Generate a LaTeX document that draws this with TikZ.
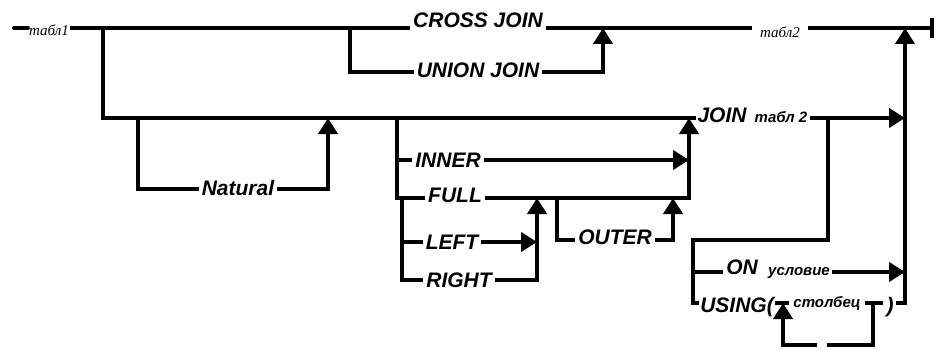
\documentclass[tikz,border=0pt]{standalone}
\usepackage{fontspec}
\setmainfont{Liberation Sans}
\newfontfamily\tabserif{Liberation Serif}
\usetikzlibrary{arrows.meta}
\newcommand{\lblfont}{\fontsize{21}{21}\selectfont\bfseries\itshape}
\newcommand{\smlfont}{\fontsize{15}{15}\selectfont\bfseries\itshape}
\newcommand{\tabfont}{\tabserif\fontsize{15}{15}\selectfont\itshape}
\begin{document}
\begin{tikzpicture}[x=1pt,y=-1pt,
  ln/.style={line width=4pt,line join=miter},
  arr/.style={ln,-{Triangle[length=16pt,width=19pt]}},
  lbl/.style={font=\lblfont,inner ysep=0pt,inner xsep=3pt,anchor=base},
  sml/.style={font=\smlfont,inner ysep=0pt,inner xsep=2pt,anchor=base},
  tab/.style={font=\tabfont,inner ysep=0pt,inner xsep=1pt,anchor=base}]
\useasboundingbox (0,0) rectangle (936,350);
% ---- text nodes
\node[tab] (t1) at (49,36) {табл1};
\node[lbl] (cross) at (478,28) {CROSS JOIN};
\node[lbl] (union) at (478,78) {UNION JOIN};
\node[tab,inner xsep=8pt] (t2) at (780,38) {табл2};
\node[lbl] (natural) at (238,195) {Natural};
\node[lbl] (inner) at (448,167) {INNER};
\node[lbl] (full) at (455,202) {FULL};
\node[lbl] (left) at (452,249) {LEFT};
\node[lbl] (right) at (459,287) {RIGHT};
\node[lbl] (outer) at (615,244) {OUTER};
\node[lbl,inner xsep=1pt] (join) at (722,122) {JOIN};
\node[sml] (tabl2b) at (781,122) {табл 2};
\node[lbl] (on) at (742,274) {ON};
\node[sml] (cond) at (799,275) {условие};
\node[lbl,inner xsep=1pt] (using) at (737,312) {USING(};
\node[sml,inner xsep=4pt] (col) at (827,307) {столбец};
\node[lbl,inner xsep=2pt] (rpar) at (890,312) {)};
% ---- junction coordinates
\coordinate (start) at (14,28);
\coordinate (a1) at (103,28);
\coordinate (a2) at (350,28);
\coordinate (a3) at (603,28);
\coordinate (a4) at (905,28);
\coordinate (end) at (934,28);
\coordinate (u1) at (350,72);
\coordinate (u2) at (603,72);
\coordinate (b1) at (103,118);
\coordinate (b2) at (138,118);
\coordinate (b3) at (328,118);
\coordinate (b4) at (397,118);
\coordinate (b5) at (689,118);
\coordinate (b6) at (828,118);
\coordinate (b7) at (905,118);
\coordinate (n1) at (138,189);
\coordinate (n2) at (328,189);
\coordinate (i1) at (397,160);
\coordinate (i2) at (689,160);
\coordinate (f1) at (397,198);
\coordinate (f2) at (402,198);
\coordinate (f3) at (537,198);
\coordinate (f4) at (557,198);
\coordinate (f5) at (673,198);
\coordinate (f6) at (689,198);
\coordinate (l1) at (402,242);
\coordinate (l2) at (537,242);
\coordinate (r1) at (402,280);
\coordinate (r2) at (537,280);
\coordinate (o1) at (557,240);
\coordinate (o2) at (673,240);
\coordinate (c1) at (828,240);
\coordinate (c2) at (693,240);
\coordinate (c3) at (693,272);
\coordinate (c4) at (905,272);
\coordinate (c5) at (693,303);
\coordinate (s1) at (783,303);
\coordinate (s2) at (873,303);
\coordinate (s3) at (883,303);
\coordinate (s4) at (905,303);
\coordinate (s5) at (873,345);
\coordinate (s6) at (827,345);
\coordinate (s7) at (817,345);
\coordinate (s8) at (783,345);
% ---- top line
\draw[ln,line cap=round] (start) -- (t1.west |- start);
\draw[ln] (t1.east |- start) -- (cross.west |- start);
\draw[ln] (cross.east |- a3) -- (t2.west |- a3);
\draw[ln,-{Bar[width=20pt]}] (t2.east |- end) -- (end);
% cross / union
\draw[ln] (a2) -- (u1) -- (union.west |- u1);
\draw[arr] (union.east |- u2) -- (u2) -- (a3);
% main join line
\draw[ln] (a1) -- (b1) -- (join.west |- b1);
\draw[arr] (tabl2b.east |- b7) -- (b7);
% natural
\draw[ln] (b2) -- (n1) -- (natural.west |- n1);
\draw[arr] (natural.east |- n2) -- (n2) -- (b3);
% inner / full
\draw[ln] (b4) -- (f1) -- (full.west |- f1);
\draw[ln] (i1) -- (inner.west |- i1);
\draw[arr] (inner.east |- i2) -- (i2);
\draw[arr] (full.east |- f6) -- (f6) -- (b5);
% left / right
\draw[ln] (f2) -- (r1) -- (right.west |- r1);
\draw[ln] (l1) -- (left.west |- l1);
\draw[arr] (left.east |- l2) -- (l2);
\draw[arr] (right.east |- r2) -- (r2) -- (f3);
% outer
\draw[ln] (f4) -- (o1) -- (outer.west |- o1);
\draw[arr] (outer.east |- o2) -- (o2) -- (f5);
% on / using
\draw[ln] (b6) -- (c1) -- (c2) -- (c5) -- (using.west |- c5);
\draw[ln] (c3) -- (on.west |- c3);
\draw[arr] (cond.east |- c4) -- (c4);
\draw[ln] (using.east |- s1) -- (col.west |- s1);
\draw[ln] (col.east |- s3) -- (s3);
\draw[ln] (s2) -- (s5) -- (s6);
\draw[arr] (s7) -- (s8) -- (s1);
\draw[arr] (rpar.east |- s4) -- (s4) -- (a4);
\end{tikzpicture}
\end{document}
